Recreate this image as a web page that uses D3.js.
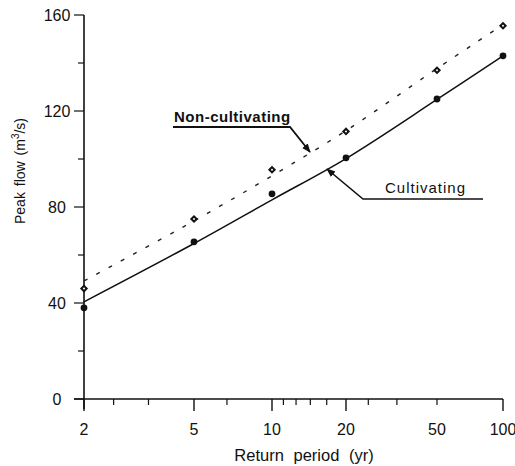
<!DOCTYPE html>
<html>
<head>
<meta charset="utf-8">
<script src="https://cdn.jsdelivr.net/npm/d3@7"></script>
<style>
  body { margin: 0; background: #fff; }
  text { font-family: "Liberation Sans", Arial, sans-serif; fill: #111; }
</style>
</head>
<body>
<script>
// ---------------------- data ----------------------
var periods     = [2, 5, 10, 20, 50, 100];          // return period (yr)
var cultObs     = [38, 65.5, 85.5, 100.5, 125, 143];
var nonCultObs  = [46, 75, 95.5, 111.5, 137, 155.5];
var cultFit     = [40.5, 64.8, 83, 100.2, 124.8, 143];
var nonCultFit  = [49.2, 74.2, 93, 111.8, 137.7, 156];
var yMajor      = [0, 40, 80, 120, 160];
var yMinor      = [20, 60, 100, 140];
var xLong       = [2, 5, 10, 20, 100];
var xShortProb  = [0.6, 0.7, 0.85, 0.91, 0.92, 0.93, 0.94, 0.96, 0.97, 0.98];

// Gumbel reduced variate: extreme value probability paper
function gumbel(T) { return -Math.log(-Math.log(1 - 1 / T)); }

var W = 515, H = 466;
var svg = d3.select("body").append("svg")
     .attr("width", W)
     .attr("height", H);

// the printed paper is not perfectly uniform, so anchor at each labelled period
var x = d3.scaleLinear().domain(periods.map(gumbel)).range([84, 194, 272, 346, 437, 503]);
var y = d3.scaleLinear().domain([0, 160]).range([399, 15]);
var px = function (T) { return x(gumbel(T)); };

// ---------------------- axes ----------------------
var axisG = svg.append("g").attr("stroke", "#111").attr("fill", "none");

// y axis line and ticks
axisG.append("line").attr("x1", 84).attr("x2", 84).attr("y1", y(160)).attr("y2", y(0) + 10).attr("stroke-width", 1.6);
axisG.selectAll(".ymaj").data(yMajor).enter().append("line")
     .attr("x1", 74).attr("x2", 84).attr("y1", y).attr("y2", y).attr("stroke-width", 1.2);
axisG.selectAll(".ymin").data(yMinor).enter().append("line")
     .attr("x1", 78).attr("x2", 84).attr("y1", y).attr("y2", y).attr("stroke-width", 1.2);

// x axis line and ticks
axisG.append("line").attr("x1", 74).attr("x2", px(100)).attr("y1", y(0)).attr("y2", y(0)).attr("stroke-width", 1.6);
axisG.selectAll(".xmaj").data(xLong).enter().append("line")
     .attr("x1", px).attr("x2", px).attr("y1", y(0)).attr("y2", y(0) + 12).attr("stroke-width", 1.4);
axisG.selectAll(".xmin").data(xShortProb).enter().append("line")
     .attr("x1", function (p) { return px(1 / (1 - p)); })
     .attr("x2", function (p) { return px(1 / (1 - p)); })
     .attr("y1", y(0)).attr("y2", y(0) + 6).attr("stroke-width", 1.2);

// tick labels
svg.selectAll(".ylab").data(yMajor).enter().append("text")
     .attr("x", 57).attr("y", y).attr("dy", "0.36em")
     .attr("text-anchor", "middle")
     .style("font-size", "16px")
     .text(function (d) { return d; });

svg.selectAll(".xlab").data(periods).enter().append("text")
     .attr("x", px).attr("y", 435)
     .attr("text-anchor", "middle")
     .style("font-size", "16px")
     .text(function (d) { return d; });

// axis titles
svg.append("text")
     .attr("x", 304).attr("y", 461)
     .attr("text-anchor", "middle")
     .style("font-size", "16.5px")
     .style("word-spacing", "5px")
     .text("Return period (yr)");

var yt = svg.append("text")
     .attr("transform", "translate(25,171) rotate(-90)")
     .attr("text-anchor", "middle")
     .style("font-size", "14px")
     .style("word-spacing", "2px");
yt.append("tspan").text("Peak flow (m");
yt.append("tspan").attr("dy", "-6").style("font-size", "10px").text("3");
yt.append("tspan").attr("dy", "6").text("/s)");

// ---------------------- fitted curves ----------------------
var line = function (vals) {
     return d3.line()
          .x(function (d, i) { return px(periods[i]); })
          .y(function (d) { return y(d); })
          .curve(d3.curveCatmullRom.alpha(0.5))(vals);
};

svg.append("path").attr("d", line(cultFit))
     .attr("fill", "none").attr("stroke", "#111").attr("stroke-width", 1.5);
svg.append("path").attr("d", line(nonCultFit))
     .attr("fill", "none").attr("stroke", "#222").attr("stroke-width", 1.4)
     .attr("stroke-dasharray", "4,10");

// ---------------------- observed points ----------------------
svg.selectAll(".cpt").data(cultObs).enter().append("circle")
     .attr("cx", function (d, i) { return px(periods[i]); })
     .attr("cy", y)
     .attr("r", 3.4)
     .attr("fill", "#111");

svg.selectAll(".npt").data(nonCultObs).enter().append("path")
     .attr("d", d3.symbol().type(d3.symbolSquare).size(14))
     .attr("transform", function (d, i) { return "translate(" + px(periods[i]) + "," + y(d) + ") rotate(45)"; })
     .attr("fill", "#fff").attr("stroke", "#111").attr("stroke-width", 2);

// ---------------------- annotations ----------------------
svg.append("defs").append("marker")
     .attr("id", "arr")
     .attr("viewBox", "0 0 10 10")
     .attr("refX", 9).attr("refY", 5)
     .attr("markerWidth", 9).attr("markerHeight", 9)
     .attr("markerUnits", "userSpaceOnUse")
     .attr("orient", "auto")
     .append("path").attr("d", "M0,1 L10,5 L0,9 Z").attr("fill", "#111");

svg.append("text")
     .attr("x", 174).attr("y", 122)
     .style("font-size", "15px").style("font-weight", "bold")
     .style("letter-spacing", "0.5px")
     .text("Non-cultivating");
svg.append("polyline")
     .attr("points", "173,127 290,127 310,152")
     .attr("fill", "none").attr("stroke", "#111").attr("stroke-width", 1.8)
     .attr("marker-end", "url(#arr)");

svg.append("text")
     .attr("x", 385).attr("y", 193)
     .style("font-size", "15px")
     .style("letter-spacing", "1px")
     .text("Cultivating");
svg.append("polyline")
     .attr("points", "483,199 363,199 327,169")
     .attr("fill", "none").attr("stroke", "#111").attr("stroke-width", 1.6)
     .attr("marker-end", "url(#arr)");
</script>
</body>
</html>
